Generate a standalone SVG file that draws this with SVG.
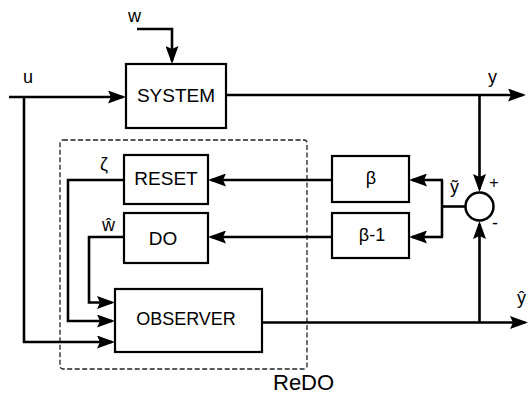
<svg xmlns="http://www.w3.org/2000/svg" width="530" height="396" viewBox="0 0 530 396">
<style>
.box{fill:#fff;stroke:#000;stroke-width:2.2}
.ln{fill:none;stroke:#000;stroke-width:2.6}
.arr{marker-end:url(#ah)}
.t{font-family:"Liberation Sans",Arial,sans-serif;fill:#000}
.lbl{font-size:19px;text-anchor:middle}
.sig{font-size:18px}
</style>
<defs>
<marker id="ah" viewBox="0 0 18 13" refX="15" refY="6.5" markerWidth="18" markerHeight="13" markerUnits="userSpaceOnUse" orient="auto">
<path d="M0,0 L18,6.5 L0,13 L3,6.5 Z" fill="#000"/>
</marker>
</defs>
<rect x="60" y="140" width="247" height="229" rx="3" fill="none" stroke="#222" stroke-width="1.3" stroke-dasharray="5,2.5"/>
<g id="connectors">
<path class="ln arr" d="M137,29 H172 V61"/>
<path class="ln arr" d="M9,97 H123"/>
<path class="ln arr" d="M24,97 V342 H112"/>
<path class="ln arr" d="M226,95 H523"/>
<path class="ln arr" d="M479.5,95 V189"/>
<path class="ln arr" d="M262,322.5 H525"/>
<path class="ln arr" d="M479.5,322.5 V224"/>
<path class="ln" d="M465.5,206.5 H442"/>
<path class="ln" d="M442,180 V237"/>
<path class="ln arr" d="M443,180 H412"/>
<path class="ln arr" d="M443,237 H412"/>
<path class="ln arr" d="M332,180 H211"/>
<path class="ln arr" d="M332,237 H211"/>
<path class="ln arr" d="M124,180 H68 V321 H112"/>
<path class="ln arr" d="M124,237 H89 V302.5 H112"/>
</g>
<g id="system"><rect class="box" x="126" y="64" width="100" height="64"/><text class="t lbl" x="176" y="102">SYSTEM</text></g>
<g id="reset"><rect class="box" x="124" y="155" width="84" height="49"/><text class="t lbl" x="166" y="185">RESET</text></g>
<g id="do"><rect class="box" x="124" y="213" width="84" height="50"/><text class="t lbl" x="163" y="245">DO</text></g>
<g id="observer"><rect class="box" x="115" y="289" width="147" height="63"/><text class="t lbl" x="186" y="325" style="font-size:18px">OBSERVER</text></g>
<g id="beta"><rect class="box" x="332" y="156" width="77" height="46"/><text class="t lbl" x="371" y="184" style="font-size:18px">β</text></g>
<g id="beta1"><rect class="box" x="332" y="213" width="77" height="45"/><text class="t lbl" x="372" y="241" style="font-size:18px">β-1</text></g>
<g id="sum"><circle cx="479.5" cy="206.5" r="14" fill="#fff" stroke="#000" stroke-width="2.5"/>
<text class="t" x="494" y="188" font-size="16" text-anchor="middle">+</text>
<text class="t" x="495" y="229" font-size="18" text-anchor="middle">-</text></g>
<g id="labels">
<text class="t sig" x="128" y="22">w</text>
<text class="t sig" x="23" y="83">u</text>
<text class="t sig" x="488" y="83">y</text>
<text class="t sig" x="450" y="193">ỹ</text>
<text class="t sig" x="517" y="304">ŷ</text>
<text class="t sig" x="100" y="170">ζ</text>
<text class="t sig" x="102" y="231">ŵ</text>
<text class="t" x="273" y="390" font-size="22">ReDO</text>
</g>
</svg>
